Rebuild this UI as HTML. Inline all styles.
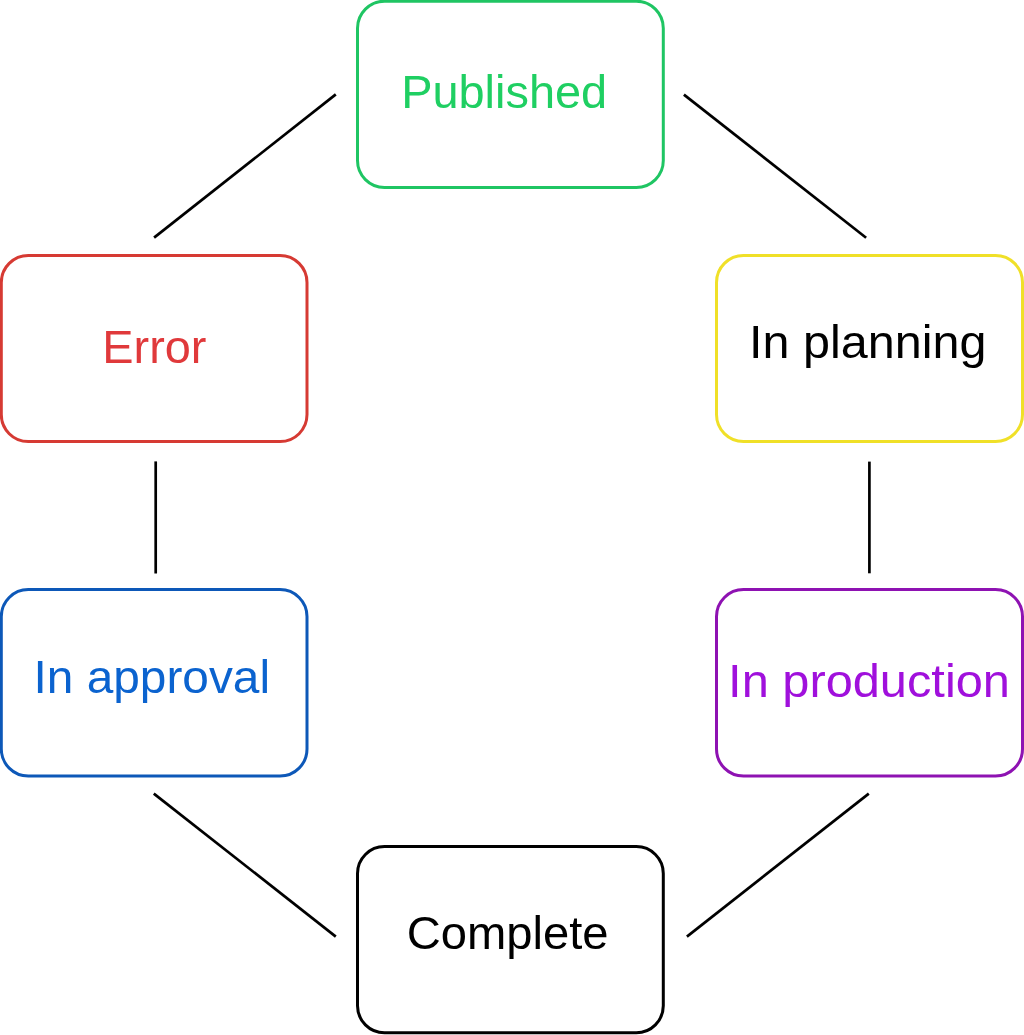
<!DOCTYPE html>
<html><head><meta charset="utf-8"><style>
html,body{margin:0;padding:0;background:#fff;}
body{width:1024px;height:1035px;overflow:hidden;}
svg{display:block;will-change:transform;}
text{font-family:"Liberation Sans",sans-serif;font-size:47px;}
</style></head><body>
<svg width="1024" height="1035" viewBox="0 0 1024 1035">
<rect x="357.5" y="1.2" width="305.8" height="186.3" rx="27" ry="27" fill="none" stroke="#1fc563" stroke-width="3.0"/>
<rect x="1.3" y="255.5" width="305.7" height="186.1" rx="27" ry="27" fill="none" stroke="#d63a33" stroke-width="3.0"/>
<rect x="716.5" y="255.5" width="306.0" height="186.0" rx="27" ry="27" fill="none" stroke="#f0e028" stroke-width="3.0"/>
<rect x="1.3" y="589.6" width="305.7" height="186.4" rx="27" ry="27" fill="none" stroke="#0d58b8" stroke-width="3.0"/>
<rect x="716.5" y="589.6" width="306.0" height="186.4" rx="27" ry="27" fill="none" stroke="#8e12b2" stroke-width="3.0"/>
<rect x="357.5" y="846.6" width="305.8" height="186.2" rx="27" ry="27" fill="none" stroke="#000000" stroke-width="3.0"/>
<line x1="335.8" y1="94.4" x2="154.1" y2="237.6" stroke="#000" stroke-width="2.7" stroke-linecap="butt"/>
<line x1="683.9" y1="94.6" x2="866.1" y2="237.7" stroke="#000" stroke-width="2.7" stroke-linecap="butt"/>
<line x1="155.7" y1="461.4" x2="155.7" y2="573.5" stroke="#000" stroke-width="2.7" stroke-linecap="butt"/>
<line x1="869.4" y1="461.6" x2="869.4" y2="573.3" stroke="#000" stroke-width="2.7" stroke-linecap="butt"/>
<line x1="153.8" y1="793.6" x2="335.8" y2="936.6" stroke="#000" stroke-width="2.7" stroke-linecap="butt"/>
<line x1="868.8" y1="793.6" x2="686.9" y2="936.6" stroke="#000" stroke-width="2.7" stroke-linecap="butt"/>
<g transform="translate(401.15,108.3) scale(0.9983,1)"><text x="0" y="0" fill="#1fcf62">Published</text></g>
<g transform="translate(102.25,362.8) scale(0.9980,1)"><text x="0" y="0" fill="#e0393b">Error</text></g>
<g transform="translate(749.12,358.0) scale(1.0319,1)"><text x="0" y="0" fill="#000000">In planning</text></g>
<g transform="translate(33.49,692.5) scale(1.0175,1)"><text x="0" y="0" fill="#0b63cf">In approval</text></g>
<g transform="translate(728.10,696.9) scale(1.0376,1)"><text x="0" y="0" fill="#a010dc">In production</text></g>
<g transform="translate(406.70,949.0) scale(1.0042,1)"><text x="0" y="0" fill="#000000">Complete</text></g>
</svg>
</body></html>
